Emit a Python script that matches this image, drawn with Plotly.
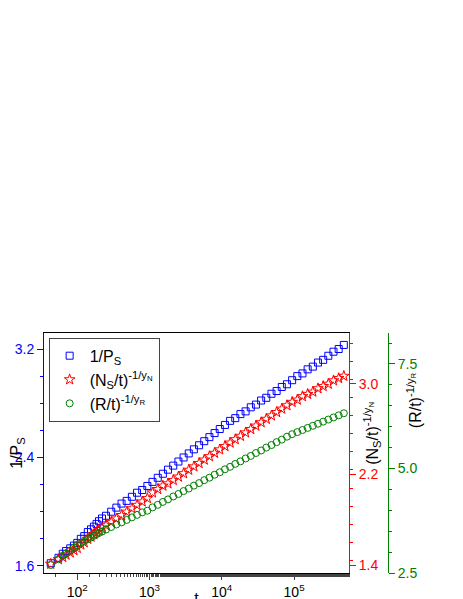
import plotly.graph_objects as go

t = [43, 55, 63, 70, 80, 90, 100, 112, 125, 140, 155, 170, 185, 200, 220, 250, 295, 348, 410, 483,
     570, 672, 792, 934, 1100, 1300, 1530, 1800, 2130, 2510, 2960, 3490, 4110, 4850, 5720, 6740,
     7950, 9370, 11050, 13030, 15360, 18110, 21350, 25170, 29680, 35000, 41260, 48650, 57360,
     67630, 79740, 94020, 110850, 130700, 154100, 181700, 214200, 252600, 297800, 351100, 414000, 488100]

inv_ps = [1.62, 1.66, 1.69, 1.71, 1.73, 1.75, 1.77, 1.80, 1.82, 1.85, 1.87, 1.89, 1.91, 1.93, 1.95, 1.97,
          2.00, 2.03, 2.06, 2.08, 2.11, 2.14, 2.16, 2.19, 2.22, 2.25, 2.28, 2.31, 2.34, 2.37, 2.40, 2.43,
          2.46, 2.49, 2.52, 2.55, 2.58, 2.61, 2.64, 2.67, 2.69, 2.72, 2.74, 2.77, 2.79, 2.82, 2.84, 2.87,
          2.89, 2.92, 2.94, 2.97, 3.00, 3.02, 3.05, 3.07, 3.10, 3.12, 3.15, 3.18, 3.20, 3.23]

ns_t = [1.41, 1.45, 1.47, 1.49, 1.51, 1.53, 1.55, 1.58, 1.60, 1.63, 1.65, 1.67, 1.69, 1.71, 1.73, 1.75,
        1.78, 1.81, 1.84, 1.87, 1.90, 1.93, 1.96, 1.99, 2.04, 2.07, 2.10, 2.12, 2.15, 2.18, 2.21, 2.24,
        2.27, 2.30, 2.33, 2.36, 2.39, 2.42, 2.45, 2.48, 2.51, 2.54, 2.57, 2.60, 2.63, 2.66, 2.69, 2.72,
        2.75, 2.78, 2.81, 2.84, 2.86, 2.89, 2.91, 2.93, 2.96, 2.98, 3.00, 3.03, 3.05, 3.07]

r_t = [2.69, 2.83, 2.91, 2.97, 3.04, 3.11, 3.17, 3.22, 3.26, 3.31, 3.35, 3.39, 3.43, 3.46, 3.49, 3.54,
       3.60, 3.66, 3.71, 3.77, 3.83, 3.89, 3.95, 3.99, 4.07, 4.13, 4.20, 4.26, 4.33, 4.39, 4.46, 4.52,
       4.59, 4.65, 4.72, 4.78, 4.85, 4.91, 4.98, 5.04, 5.11, 5.17, 5.24, 5.30, 5.37, 5.43, 5.50, 5.56,
       5.63, 5.69, 5.76, 5.82, 5.87, 5.92, 5.97, 6.02, 6.07, 6.12, 6.17, 6.22, 6.27, 6.32]

x_tickvals = [1e2, 1e3, 1e4, 1e5]
x_ticktext = ["10<sup>2</sup>", "10<sup>3</sup>", "10<sup>4</sup>", "10<sup>5</sup>"]

BLUE, RED, GREEN = "#0000ff", "#ff0000", "#008000"
font = "Liberation Sans, Arial, sans-serif"

fig = go.Figure()
fig.add_trace(go.Scatter(x=t, y=inv_ps, mode="markers", name="1/P<sub>S</sub>",
                         marker={"symbol": "square-open", "size": 7, "color": BLUE, "line": {"width": 1}}))
fig.add_trace(go.Scatter(x=t, y=ns_t, mode="markers", yaxis="y2",
                         name="(N<sub>S</sub>/t)<sup>-1/y<sub>N</sub></sup>",
                         marker={"symbol": "star-open", "size": 8, "color": RED, "line": {"width": 1}}))
fig.add_trace(go.Scatter(x=t, y=r_t, mode="markers", yaxis="y3",
                         name="(R/t)<sup>-1/y<sub>R</sub></sup>",
                         marker={"symbol": "circle-open", "size": 7, "color": GREEN, "line": {"width": 1}}))

plot_w = 463 - 36 - 40
x_end = 305 / plot_w
fig.update_layout(
    width=463, height=599,
    margin={"l": 36, "r": 40, "t": 325, "b": 34, "autoexpand": False},
    paper_bgcolor="white", plot_bgcolor="white",
    font={"family": font, "size": 14, "color": "black"},
    showlegend=True,
    legend={"x": 0.012, "y": 0.98, "xanchor": "left", "yanchor": "top",
            "bordercolor": "#444", "borderwidth": 1, "font": {"size": 16}, "bgcolor": "white"},
    xaxis={"type": "log", "domain": [0, x_end], "range": [1.54, 5.76], "automargin": False,
           "tickvals": x_tickvals, "ticktext": x_ticktext, "ticks": "outside", "ticklen": 6,
           "minor": {"ticks": "outside", "ticklen": 3, "showgrid": False},
           "showline": True, "linecolor": "black", "mirror": True, "showgrid": False, "zeroline": False,
           "title": {"text": "t", "standoff": 0, "font": {"size": 16}}},
    yaxis={"range": [1.548, 3.318], "tickvals": [1.6, 2.4, 3.2], "ticks": "outside", "ticklen": 6,
           "automargin": False,
           "minor": {"dtick": 0.2, "ticks": "outside", "ticklen": 3, "tickcolor": BLUE, "showgrid": False},
           "color": BLUE, "linecolor": BLUE, "showline": True, "showgrid": False, "zeroline": False,
           "tickformat": ".1f",
           "title": {"text": "1/P<sub>S</sub>", "font": {"size": 16, "color": "black"}, "standoff": 2}},
    yaxis2={"overlaying": "y", "side": "right", "anchor": "x", "range": [1.33, 3.45], "automargin": False,
            "tickvals": [1.4, 2.2, 3.0], "tickformat": ".1f", "ticks": "outside", "ticklen": 6,
            "minor": {"dtick": 0.16, "ticks": "outside", "ticklen": 3, "tickcolor": RED, "showgrid": False},
            "color": RED, "linecolor": RED, "showline": True, "showgrid": False, "zeroline": False},
    yaxis3={"overlaying": "y", "side": "right", "anchor": "free", "position": (380 - 36) / plot_w,
            "range": [2.5, 8.24], "tickvals": [2.5, 5.0, 7.5], "tickformat": ".1f", "automargin": False,
            "ticks": "outside", "ticklen": 6,
            "minor": {"dtick": 0.5, "ticks": "outside", "ticklen": 3, "tickcolor": GREEN, "showgrid": False},
            "color": GREEN, "linecolor": GREEN, "showline": True, "showgrid": False, "zeroline": False},
    annotations=[
        {"text": "(N<sub>S</sub>/t)<sup>-1/y<sub>N</sub></sup>", "textangle": -90, "showarrow": False,
         "xref": "paper", "yref": "paper", "x": (364 - 36) / plot_w, "y": 0.58,
         "xanchor": "center", "yanchor": "middle", "font": {"size": 16}},
        {"text": "(R/t)<sup>-1/y<sub>R</sub></sup>", "textangle": -90, "showarrow": False,
         "xref": "paper", "yref": "paper", "x": (406 - 36) / plot_w, "y": 0.72,
         "xanchor": "center", "yanchor": "middle", "font": {"size": 16}},
    ],
)

fig.write_html("out.html")
